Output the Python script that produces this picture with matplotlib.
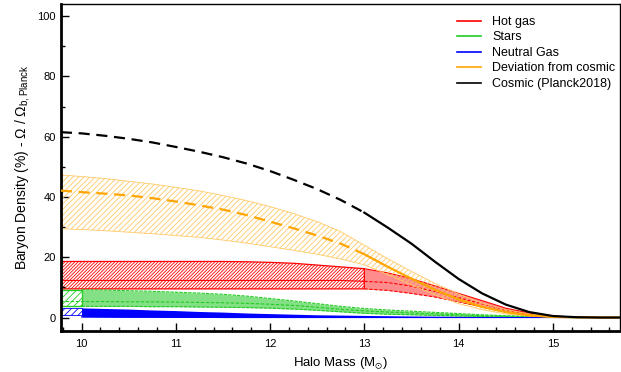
import numpy as np
import matplotlib
matplotlib.use('Agg')
import matplotlib.pyplot as plt
from matplotlib.lines import Line2D
from matplotlib.ticker import MultipleLocator

plt.rcParams['font.family'] = ['Liberation Sans', 'DejaVu Sans']
plt.rcParams['mathtext.fontset'] = 'custom'
plt.rcParams['mathtext.rm'] = 'Liberation Sans'
plt.rcParams['mathtext.fallback'] = 'stixsans'
plt.rcParams['hatch.linewidth'] = 0.6

# halo mass grid (log10 M / Msun) and values (%)
mass = [9.78, 10.0, 10.25, 10.5, 10.75, 11.0, 11.25, 11.5, 11.75, 12.0, 12.25, 12.5,
        12.75, 13.0, 13.25, 13.5, 13.75, 14.0, 14.25, 14.5, 14.75, 15.0, 15.25, 15.5, 15.71]

cosmic = [61.5, 61.1, 60.3, 59.3, 58.1, 56.6, 55.0, 53.2, 51.1, 48.6, 45.7, 42.6,
          39.0, 34.8, 29.8, 24.5, 18.5, 12.8, 8.0, 4.3, 1.8, 0.5, 0.1, 0.0, 0.0]

deviation = [42.1, 41.6, 41.1, 40.5, 39.6, 38.5, 37.2, 35.8, 34.0, 31.8, 29.6, 27.2,
             24.5, 21.0, 16.8, 12.9, 9.2, 6.0, 3.5, 1.8, 0.7, 0.2, 0.05, 0.0, 0.0]
deviation_hi = [47.3, 46.8, 46.1, 45.2, 44.3, 43.2, 42.0, 40.5, 38.8, 36.8, 34.5, 31.8,
                28.5, 24.0, 19.5, 15.3, 11.3, 7.8, 4.8, 2.6, 1.2, 0.4, 0.1, 0.0, 0.0]
deviation_lo = [29.5, 29.2, 28.8, 28.3, 27.8, 27.2, 26.6, 25.7, 24.7, 23.5, 22.3, 21.0,
                19.4, 17.5, 14.2, 10.8, 7.5, 4.6, 2.6, 1.2, 0.5, 0.1, 0.0, 0.0, 0.0]

hot_hi = [18.6, 18.6, 18.6, 18.6, 18.6, 18.6, 18.6, 18.6, 18.5, 18.3, 18.0, 17.4,
          16.8, 16.2, 14.8, 12.9, 10.5, 8.0, 5.6, 3.1, 1.5, 0.5, 0.1, 0.0, 0.0]
hot_mid = [12.3, 12.3, 12.3, 12.3, 12.3, 12.3, 12.3, 12.3, 12.3, 12.3, 12.3, 12.3,
           12.3, 12.0, 11.6, 10.4, 8.6, 6.6, 4.5, 2.5, 1.1, 0.3, 0.07, 0.0, 0.0]
hot_lo = [9.5, 9.5, 9.5, 9.5, 9.5, 9.5, 9.5, 9.5, 9.5, 9.5, 9.5, 9.5,
          9.5, 9.5, 9.0, 8.0, 6.8, 5.2, 3.5, 1.9, 0.8, 0.2, 0.05, 0.0, 0.0]

stars_hi = [9.2, 9.2, 9.1, 8.9, 8.7, 8.4, 8.1, 7.7, 7.1, 6.3, 5.5, 4.6,
            3.7, 3.0, 2.5, 2.1, 1.7, 1.3, 0.9, 0.6, 0.4, 0.2, 0.1, 0.0, 0.0]
stars_mid = [5.3, 5.3, 5.3, 5.2, 5.2, 5.1, 5.0, 4.9, 4.7, 4.4, 4.0, 3.4,
             2.7, 2.2, 1.8, 1.5, 1.2, 0.9, 0.6, 0.4, 0.25, 0.1, 0.05, 0.0, 0.0]
stars_lo = [3.7, 3.7, 3.7, 3.7, 3.6, 3.6, 3.5, 3.4, 3.3, 3.1, 2.8, 2.4,
            1.9, 1.4, 1.1, 0.9, 0.7, 0.5, 0.35, 0.2, 0.1, 0.05, 0.0, 0.0, 0.0]

neutral_hi = [3.1, 3.2, 3.0, 2.8, 2.5, 2.3, 2.0, 1.8, 1.5, 1.3, 1.1, 0.9,
              0.8, 0.7, 0.6, 0.5, 0.45, 0.4, 0.35, 0.3, 0.25, 0.2, 0.15, 0.1, 0.1]
neutral_lo = [0.9, 0.2, 0.15, 0.1, 0.1, 0.05, 0.05, 0.0, 0.0, 0.0, 0.0, 0.0,
              0.0, 0.0, 0.0, 0.0, 0.0, 0.0, 0.0, 0.0, 0.0, 0.0, 0.0, 0.0, 0.0]

labels = ['Hot gas', 'Stars', 'Neutral Gas', 'Deviation from cosmic', 'Cosmic (Planck2018)']

RED = '#ff0000'
GREEN = '#22cc22'
BLUE = '#0000ff'
ORANGE = '#ffa500'

m = np.array(mass)
obs = 13  # index of M = 13, where the observed range starts
low = 1   # index of M = 10

fig = plt.figure(figsize=(6.21, 3.72), dpi=100)
ax = fig.add_axes([0.098, 0.110, 0.900, 0.879])

# deviation from cosmic (hatched band)
ax.fill_between(m, deviation_lo, deviation_hi, facecolor='none', edgecolor='#ffc966',
                hatch='//////', lw=0.6, zorder=2)

# hot gas
ax.fill_between(m[:obs + 1], hot_lo[:obs + 1], hot_hi[:obs + 1], facecolor='white',
                edgecolor=RED, hatch='//////////', lw=0.9, zorder=1.5)
ax.plot(m[:obs + 1], hot_mid[:obs + 1], color=RED, lw=0.8, zorder=1.6)
ax.fill_between(m[obs:], hot_lo[obs:], hot_hi[obs:], color=RED, alpha=0.45, lw=0, zorder=1.5)
ax.plot(m[obs:], hot_hi[obs:], color=RED, lw=0.8, zorder=1.6)
ax.plot(m[obs:], hot_lo[obs:], color=RED, lw=0.8, ls=(0, (3, 1.5)), zorder=1.6)
ax.plot(m[obs:], hot_mid[obs:], color=RED, lw=0.8, ls=(0, (3, 1.5)), zorder=1.6)

# stars
ax.fill_between(m[:low + 1], stars_lo[:low + 1], stars_hi[:low + 1], facecolor='white',
                edgecolor=GREEN, hatch='/////', lw=1.0, zorder=1.5)
ax.fill_between(m[low:], stars_lo[low:], stars_hi[low:], color='#33cc33', alpha=0.6,
                lw=0, zorder=1.5)
ax.plot(m[low:], stars_hi[low:], color=GREEN, lw=0.8, ls=(0, (3, 1)), zorder=1.6)
ax.plot(m[low:], stars_lo[low:], color=GREEN, lw=0.8, ls=(0, (3, 1)), zorder=1.6)
ax.plot(m, stars_mid, color=GREEN, lw=0.8, ls=(0, (3, 1.5)), zorder=1.6)

# neutral gas
ax.fill_between(m[:low + 1], neutral_lo[:1] * 2, neutral_hi[:1] * 2, facecolor='white',
                edgecolor=BLUE, hatch='/////', lw=0.6, zorder=1.5)
ax.fill_between(m[low:], neutral_lo[low:], neutral_hi[low:], color=BLUE, lw=0, zorder=1.5)
ax.plot(m[low:], neutral_lo[low:], color=BLUE, lw=0.8, zorder=1.6)

# lines: extrapolated part dashed, observed part solid
ax.plot(m[:obs + 1], deviation[:obs + 1], color=ORANGE, lw=1.6, ls=(0, (5, 3)), zorder=3)
ax.plot(m[obs:], deviation[obs:], color=ORANGE, lw=1.6, zorder=3)
ax.plot(m[:obs + 1], cosmic[:obs + 1], color='black', lw=1.6, ls=(0, (5, 3)), zorder=4)
ax.plot(m[obs:], cosmic[obs:], color='black', lw=1.6, zorder=4)

ax.set_xlim(9.78, 15.71)
ax.set_ylim(-4.5, 104)
ax.xaxis.set_major_locator(MultipleLocator(1))
ax.xaxis.set_minor_locator(MultipleLocator(0.2))
ax.yaxis.set_major_locator(MultipleLocator(20))
ax.yaxis.set_minor_locator(MultipleLocator(10))
ax.tick_params(which='both', direction='in', labelsize=8, colors='black')
ax.tick_params(which='major', length=6, width=1.0)
ax.tick_params(which='minor', length=3, width=1.0)
ax.tick_params(axis='x', pad=6)
for side in ['left', 'bottom']:
    ax.spines[side].set_linewidth(2.0)
for side in ['top', 'right']:
    ax.spines[side].set_linewidth(1.0)

ax.set_xlabel(r'Halo Mass (M$_{⊙}$)', fontsize=9.5)
ax.set_ylabel('Baryon Density (%) - Ω / Ω$_{\\rm b,Planck}$', fontsize=10)

handles = [Line2D([], [], color=c, lw=1.2) for c in [RED, GREEN, BLUE, ORANGE, 'black']]
ax.legend(handles, labels, loc='upper right', frameon=False, fontsize=9,
          handlelength=1.9, handletextpad=0.9, labelspacing=0.28,
          bbox_to_anchor=(1.012, 0.998))

fig.savefig('out.png', dpi=100)
